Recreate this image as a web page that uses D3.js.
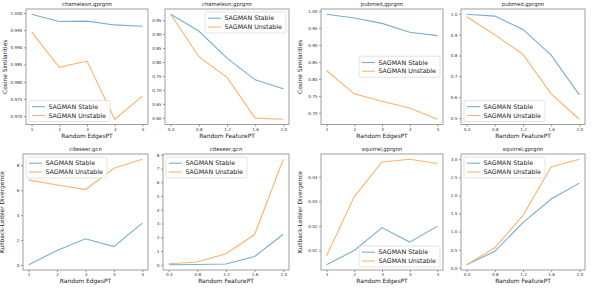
<!DOCTYPE html>
<html><head><meta charset="utf-8">
<script src="https://cdn.jsdelivr.net/npm/d3@7"></script>
<style>body{margin:0;background:#fff}svg{display:block}text{font-family:"DejaVu Sans",sans-serif}</style>
</head><body><svg id="c" width="595" height="288"></svg>
<script>
const edgesX = [1, 2, 3, 4, 5];
const featX = [0.4, 0.8, 1.2, 1.6, 2.0];
const edgesTicks = [1, 2, 3, 4, 5];
const featTicks = [0.4, 0.8, 1.2, 1.6, 2.0];
const seriesNames = ["SAGMAN Stable", "SAGMAN Unstable"];

const chamEdgeStable = [0.9996, 0.9975, 0.9976, 0.9965, 0.9961];
const chamEdgeUnstable = [0.9945, 0.9842, 0.9860, 0.9691, 0.9758];
const chamFeatStable = [0.971, 0.911, 0.814, 0.736, 0.704];
const chamFeatUnstable = [0.971, 0.819, 0.745, 0.599, 0.595];
const pubEdgeStable = [0.991, 0.980, 0.964, 0.938, 0.928];
const pubEdgeUnstable = [0.825, 0.756, 0.734, 0.714, 0.681];
const pubFeatStable = [0.998, 0.989, 0.925, 0.802, 0.611];
const pubFeatUnstable = [0.986, 0.900, 0.805, 0.616, 0.494];
const citeEdgeStable = [0.02, 1.17, 2.10, 1.47, 3.36];
const citeEdgeUnstable = [6.83, 6.42, 6.05, 7.76, 8.48];
const citeFeatStable = [0.0, 0.02, 0.05, 0.6, 2.22];
const citeFeatUnstable = [0.07, 0.2, 0.8, 2.2, 7.68];
const squEdgeStable = [0.0042, 0.0100, 0.0193, 0.0134, 0.0199];
const squEdgeUnstable = [0.0078, 0.0319, 0.0460, 0.0471, 0.0454];
const squFeatStable = [0.083, 0.454, 1.25, 1.90, 2.34];
const squFeatUnstable = [0.083, 0.55, 1.45, 2.79, 3.0];

const chamEdgeYTicks = [0.970, 0.975, 0.980, 0.985, 0.990, 0.995, 1.000];
const chamFeatYTicks = [0.60, 0.65, 0.70, 0.75, 0.80, 0.85, 0.90, 0.95];
const pubEdgeYTicks = [0.70, 0.75, 0.80, 0.85, 0.90, 0.95, 1.00];
const pubFeatYTicks = [0.5, 0.6, 0.7, 0.8, 0.9, 1.0];
const citeEdgeYTicks = [0, 2, 4, 6, 8];
const citeFeatYTicks = [0, 1, 2, 3, 4, 5, 6, 7, 8];
const squEdgeYTicks = [0.01, 0.02, 0.03, 0.04];
const squFeatYTicks = [0.0, 0.5, 1.0, 1.5, 2.0, 2.5, 3.0];

const panels = [
  {title:"chameleon,gprgnn", x:edgesX, xt:edgesTicks, xf:d3.format("d"), s:chamEdgeStable, u:chamEdgeUnstable, yt:chamEdgeYTicks, yf:d3.format(".3f"), xl:"Random EdgesPT", yl:"Cosine Similarities", box:[26,9,148,124.5], leg:"ll"},
  {title:"chameleon,gprgnn", x:featX, xt:featTicks, xf:d3.format(".1f"), s:chamFeatStable, u:chamFeatUnstable, yt:chamFeatYTicks, yf:d3.format(".2f"), xl:"Random FeaturePT", yl:null, box:[165,9,289,124.5], leg:"ur"},
  {title:"pubmed,gprgnn", x:edgesX, xt:edgesTicks, xf:d3.format("d"), s:pubEdgeStable, u:pubEdgeUnstable, yt:pubEdgeYTicks, yf:d3.format(".2f"), xl:"Random EdgesPT", yl:"Cosine Similarities", box:[321,9,443,124.5], leg:"cr"},
  {title:"pubmed,gprgnn", x:featX, xt:featTicks, xf:d3.format(".1f"), s:pubFeatStable, u:pubFeatUnstable, yt:pubFeatYTicks, yf:d3.format(".1f"), xl:"Random FeaturePT", yl:null, box:[461,9,585,124.5], leg:"ll"},
  {title:"citeseer,gcn", x:edgesX, xt:edgesTicks, xf:d3.format("d"), s:citeEdgeStable, u:citeEdgeUnstable, yt:citeEdgeYTicks, yf:d3.format("d"), xl:"Random EdgesPT", yl:"Kullback-Leibler Divergence", box:[23,154,148,270], leg:"ul"},
  {title:"citeseer,gcn", x:featX, xt:featTicks, xf:d3.format(".1f"), s:citeFeatStable, u:citeFeatUnstable, yt:citeFeatYTicks, yf:d3.format("d"), xl:"Random FeaturePT", yl:null, box:[163,154,289,270], leg:"ul"},
  {title:"squirrel,gprgnn", x:edgesX, xt:edgesTicks, xf:d3.format("d"), s:squEdgeStable, u:squEdgeUnstable, yt:squEdgeYTicks, yf:d3.format(".2f"), xl:"Random EdgesPT", yl:"Kullback-Leibler Divergence", box:[321,154,443,270], leg:"lr"},
  {title:"squirrel,gprgnn", x:featX, xt:featTicks, xf:d3.format(".1f"), s:squFeatStable, u:squFeatUnstable, yt:squFeatYTicks, yf:d3.format(".1f"), xl:"Random FeaturePT", yl:null, box:[461,154,585,270], leg:"ul"}
];

const colors = ["#78add2", "#ffb26e"];
const svg = d3.select("#c");
const tickFont = 4.2, labFont = 5.9, titleFont = 5.3, legFont = 6.3;

function pad(ext){ const r = ext[1]-ext[0]; return [ext[0]-0.05*r, ext[1]+0.05*r]; }

panels.forEach(p => {
  const [x0,y0,x1,y1] = p.box;
  const xs = d3.scaleLinear().domain(pad(d3.extent(p.x))).range([x0,x1]);
  const ys = d3.scaleLinear().domain(pad(d3.extent(p.s.concat(p.u)))).range([y1,y0]);
  const g = svg.append("g");

  const xa = g.append("g").attr("transform",`translate(0,${y1})`)
    .call(d3.axisBottom(xs).tickValues(p.xt).tickFormat(p.xf).tickSize(2).tickPadding(1.5));
  const ya = g.append("g").attr("transform",`translate(${x0},0)`)
    .call(d3.axisLeft(ys).tickValues(p.yt).tickFormat(p.yf).tickSize(2).tickPadding(1.5));
  [xa,ya].forEach(a => {
    a.select(".domain").remove();
    a.selectAll("line").attr("stroke","#555").attr("stroke-width",0.6);
    a.selectAll("text").attr("font-size",tickFont).attr("fill","#333").attr("font-family","DejaVu Sans");
  });

  const line = d3.line().x((d,i)=>xs(p.x[i])).y(d=>ys(d));
  [p.s, p.u].forEach((arr,k) => {
    g.append("path").datum(arr).attr("d",line).attr("fill","none")
      .attr("stroke",colors[k]).attr("stroke-width",1.1);
  });

  g.append("rect").attr("x",x0).attr("y",y0).attr("width",x1-x0).attr("height",y1-y0)
    .attr("fill","none").attr("stroke","#888").attr("stroke-width",0.8);

  g.append("text").attr("x",(x0+x1)/2).attr("y",y0-3).attr("text-anchor","middle")
    .attr("font-size",titleFont).attr("fill","#222").text(p.title);
  g.append("text").attr("x",(x0+x1)/2).attr("y",y1+13).attr("text-anchor","middle")
    .attr("font-size",labFont).attr("fill","#222").text(p.xl);
  if (p.yl) {
    g.append("text").attr("transform",`translate(${x0-19.5},${(y0+y1)/2}) rotate(-90)`)
      .attr("text-anchor","middle").attr("font-size",labFont).attr("fill","#222").text(p.yl);
  }

  // legend
  const lw = 81, lh = 21;
  let lx, ly;
  if (p.leg==="ll") { lx = x0+3; ly = y1-3-lh; }
  else if (p.leg==="ur") { lx = x1-3-lw; ly = y0+3; }
  else if (p.leg==="ul") { lx = x0+3; ly = y0+3; }
  else if (p.leg==="lr") { lx = x1-3-lw; ly = y1-3-lh; }
  else { lx = x1-3-lw; ly = (y0+y1)/2-lh/2; }
  const lg = g.append("g").attr("transform",`translate(${lx},${ly})`);
  lg.append("rect").attr("width",lw).attr("height",lh).attr("rx",1.5)
    .attr("fill","#fff").attr("fill-opacity",0.85).attr("stroke","#d0d0d0").attr("stroke-width",0.6);
  seriesNames.forEach((n,k) => {
    const cy = 6.2 + k*8.8;
    lg.append("line").attr("x1",3).attr("x2",16).attr("y1",cy).attr("y2",cy)
      .attr("stroke",colors[k]).attr("stroke-width",1.1);
    lg.append("text").attr("x",19.5).attr("y",cy+2.2).attr("font-size",legFont).attr("fill","#222").text(n);
  });
});
</script></body></html>
